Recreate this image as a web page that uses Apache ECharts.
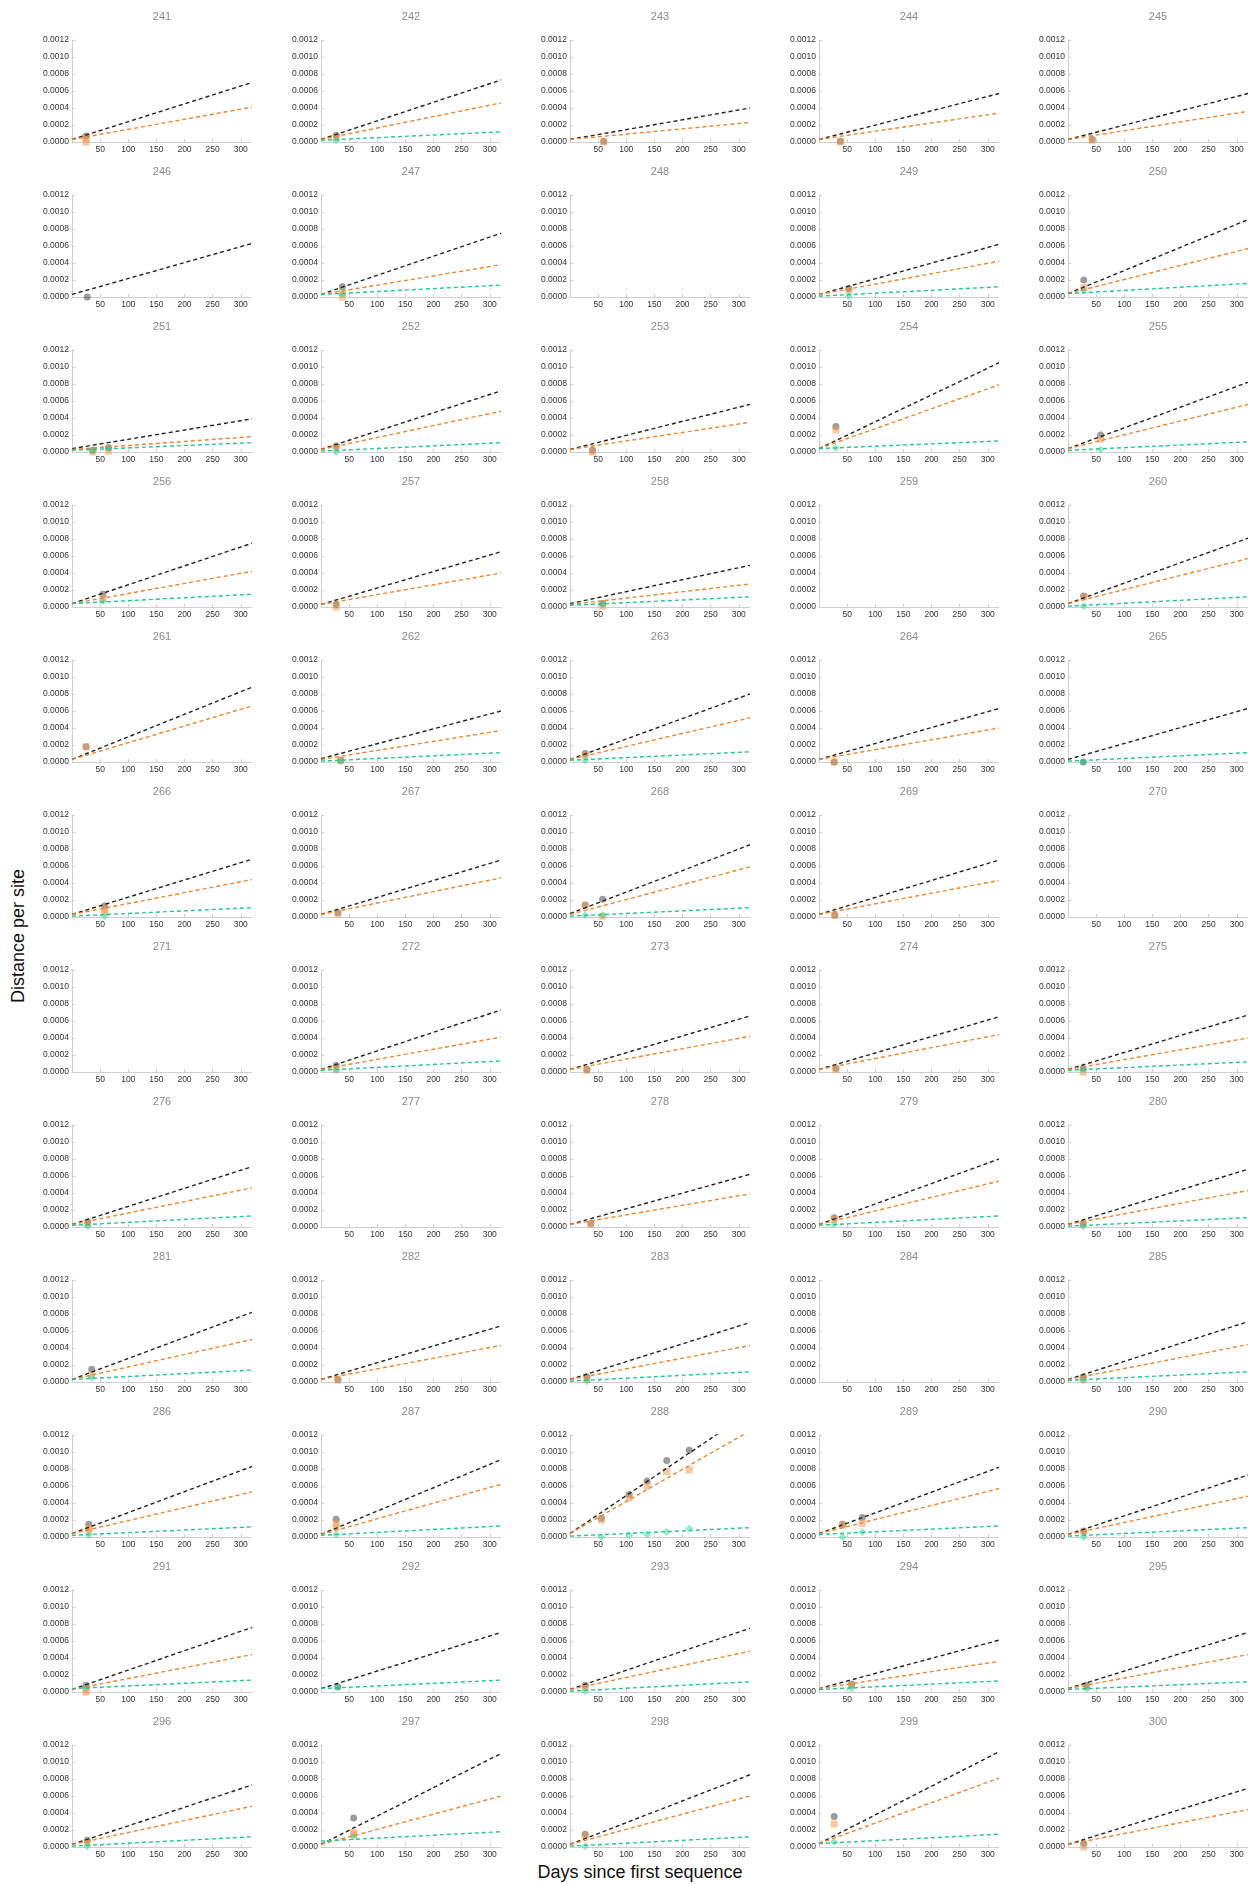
<!DOCTYPE html>
<html>
<head>
<meta charset="utf-8">
<script src="https://cdn.jsdelivr.net/npm/echarts@6/dist/echarts.min.js"></script>
<style>
html, body { margin: 0; padding: 0; background: #fff; }
#wrap { position: relative; width: 1248px; height: 1884px; overflow: hidden; }
.panel { position: absolute; width: 252px; height: 155px; }
.axtitle { position: absolute; font: 18px "Liberation Sans", Arial, sans-serif; color: #111; white-space: nowrap; }
#xtitle { left: 640px; top: 1872px; transform: translate(-50%, -50%); }
#ytitle { left: 18px; top: 936px; transform: translate(-50%, -50%) rotate(-90deg); }
#err { position: absolute; left: 300px; top: 0; font: 12px monospace; color: #c00; white-space: pre-wrap; z-index: 10; }
</style>
</head>
<body>
<div id="wrap">
    <div class="axtitle" id="xtitle">Days since first sequence</div>
    <div class="axtitle" id="ytitle">Distance per site</div>
</div>
<pre id="err"></pre>
<script>
// panel ids, left to right, top to bottom
var panelNames = ['241','242','243','244','245','246','247','248','249','250',
    '251','252','253','254','255','256','257','258','259','260',
    '261','262','263','264','265','266','267','268','269','270',
    '271','272','273','274','275','276','277','278','279','280',
    '281','282','283','284','285','286','287','288','289','290',
    '291','292','293','294','295','296','297','298','299','300'];

// fitted lines: [value at day 0, value at day 320], null = no line
var blackFit = [
    [0.00003,0.00070],[0.00003,0.00073],[0.00003,0.00040],[0.00003,0.00057],[0.00003,0.00057],
    [0.00003,0.00063],[0.00003,0.00075],null,[0.00003,0.00062],[0.00004,0.00091],
    [0.00004,0.00039],[0.00003,0.00072],[0.00003,0.00056],[0.00004,0.00105],[0.00004,0.00082],
    [0.00004,0.00075],[0.00003,0.00065],[0.00004,0.00049],null,[0.00004,0.00081],
    [0.00003,0.00088],[0.00004,0.00060],[0.00003,0.00080],[0.00003,0.00063],[0.00003,0.00063],
    [0.00003,0.00068],[0.00003,0.00067],[0.00004,0.00085],[0.00003,0.00067],null,
    null,[0.00003,0.00073],[0.00003,0.00066],[0.00003,0.00065],[0.00003,0.00067],
    [0.00003,0.00071],null,[0.00003,0.00062],[0.00003,0.00080],[0.00003,0.00068],
    [0.00003,0.00082],[0.00003,0.00066],[0.00003,0.00070],null,[0.00003,0.00071],
    [0.00004,0.00083],[0.00003,0.00091],[0.00004,0.00147],[0.00004,0.00082],[0.00003,0.00073],
    [0.00003,0.00076],[0.00004,0.00070],[0.00003,0.00075],[0.00004,0.00061],[0.00004,0.00070],
    [0.00003,0.00073],[0.00003,0.00110],[0.00003,0.00085],[0.00004,0.00112],[0.00003,0.00069]
];
var orangeFit = [
    [0.00003,0.00041],[0.00003,0.00046],[0.00003,0.00023],[0.00003,0.00034],[0.00003,0.00036],
    null,[0.00003,0.00038],null,[0.00003,0.00042],[0.00004,0.00057],
    [0.00003,0.00018],[0.00003,0.00048],[0.00003,0.00035],[0.00004,0.00079],[0.00004,0.00056],
    [0.00004,0.00042],[0.00003,0.00040],[0.00003,0.00027],null,[0.00004,0.00057],
    [0.00003,0.00066],[0.00003,0.00037],[0.00003,0.00052],[0.00003,0.00040],null,
    [0.00003,0.00044],[0.00003,0.00046],[0.00003,0.00059],[0.00003,0.00043],null,
    null,[0.00003,0.00041],[0.00003,0.00042],[0.00003,0.00044],[0.00003,0.00040],
    [0.00003,0.00046],null,[0.00003,0.00039],[0.00003,0.00054],[0.00003,0.00043],
    [0.00003,0.00050],[0.00003,0.00043],[0.00003,0.00043],null,[0.00003,0.00044],
    [0.00004,0.00053],[0.00003,0.00062],[0.00004,0.00125],[0.00004,0.00057],[0.00003,0.00048],
    [0.00003,0.00044],null,[0.00003,0.00048],[0.00004,0.00036],[0.00004,0.00044],
    [0.00003,0.00048],[0.00003,0.00060],[0.00003,0.00060],[0.00004,0.00081],[0.00003,0.00044]
];
var greenFit = [
    null,[0.00002,0.00012],null,null,null,
    null,[0.00003,0.00014],null,[0.00001,0.00012],[0.00004,0.00016],
    [0.00002,0.00011],[0.00001,0.00011],null,[0.00004,0.00013],[0.00002,0.00012],
    [0.00004,0.00015],null,[0.00002,0.00012],null,[0.00001,0.00012],
    null,[0.00001,0.00011],[0.00002,0.00012],null,[0.00001,0.00011],
    [0.00001,0.00011],null,[0.00001,0.00011],null,null,
    null,[0.00002,0.00013],null,null,[0.00002,0.00012],
    [0.00002,0.00013],null,null,[0.00002,0.00013],[0.00001,0.00011],
    [0.00003,0.00014],null,[0.00001,0.00012],null,[0.00002,0.00012],
    [0.00002,0.00012],[0.00002,0.00013],[0.00001,0.00011],[0.00003,0.00013],[0.00001,0.00011],
    [0.00004,0.00014],[0.00004,0.00014],[0.00001,0.00012],[0.00003,0.00013],[0.00003,0.00012],
    [0.00001,0.00012],[0.00007,0.00018],[0.00001,0.00012],[0.00004,0.00015],null
];

// observed points: [day, distance per site]
var blackPts = [
    [[25,0.00007]],[[27,0.00008]],[[60,0.00001]],[[38,0.00001]],[[43,0.00003]],
    [[27,0.0]],[[38,0.00012]],[],[[53,0.0001]],[[28,0.0002]],
    [[37,0.00002],[65,0.00005]],[[27,0.00007]],[[40,0.00002]],[[30,0.0003]],[[58,0.0002]],
    [[55,0.00015]],[[27,0.00003]],[[58,0.00004]],[],[[28,0.00013]],
    [[25,0.00018]],[[35,0.00002]],[[27,0.0001]],[[27,0.0]],[[27,0.0]],
    [[58,0.00013]],[[30,0.00005]],[[27,0.00014],[58,0.00021]],[[28,0.00002]],[],
    [],[[27,0.00008]],[[30,0.00003]],[[30,0.00004]],[[27,0.00004]],
    [[28,0.00006]],[],[[37,0.00004]],[[27,0.00011]],[[27,0.00004]],
    [[35,0.00015]],[[30,0.00003]],[[30,0.00006]],[],[[27,0.00006]],
    [[30,0.00015]],[[27,0.00021]],[[56,0.00022],[105,0.0005],[137,0.00066],[172,0.0009],[212,0.00102]],[[42,0.00015],[77,0.00023]],[[28,0.00007]],
    [[25,0.00008]],[[30,0.00006]],[[27,0.00008]],[[58,0.00009]],[[33,0.00008]],
    [[27,0.00008]],[[58,0.00034]],[[27,0.00015]],[[27,0.00036]],[[28,0.00004]]
];
var orangePts = [
    [[25,0.00004],[25,0.0]],[[27,0.00005]],[[60,0.0]],[[38,0.0]],[[43,0.00002]],
    [],[[38,0.00005],[38,0.0]],[],[[53,0.00008]],[[28,0.00011]],
    [[37,0.0],[65,0.00001]],[[27,0.00005]],[[40,0.0]],[[30,0.00026]],[[58,0.00015]],
    [[55,0.0001]],[[27,0.0]],[[58,0.00001]],[],[[28,0.00012]],
    [[25,0.00018]],[[35,0.00002]],[[27,0.00008]],[[27,0.0]],[],
    [[58,0.00009],[58,0.00006]],[[30,0.00004]],[[27,0.00013],[58,0.00001]],[[28,0.00002]],[],
    [],[[27,0.00003]],[[30,0.00002]],[[30,0.00003]],[[27,0.0]],
    [[28,0.00004]],[],[[37,0.00003]],[[27,0.00009]],[[27,0.00003]],
    [[35,0.00008]],[[30,0.00002]],[[30,0.00003]],[],[[27,0.00003]],
    [[30,0.0001],[30,0.00008]],[[27,0.00016],[27,0.00012]],[[56,0.0002],[105,0.00046],[137,0.0006],[172,0.00077],[212,0.00079]],[[42,0.00014],[77,0.00016]],[[28,0.00006]],
    [[25,0.00002],[25,0.0]],[],[[27,0.00005]],[[58,0.00008]],[[33,0.00006]],
    [[27,0.00005]],[[58,0.00017],[58,0.00015]],[[27,0.00013]],[[27,0.00027]],[[28,0.0]]
];
var greenPts = [
    [],[[27,0.00002]],[],[],[],
    [],[[38,0.00003]],[],[[53,0.00001]],[[28,0.00008]],
    [[37,0.00002],[65,0.00004]],[[27,0.0]],[],[[30,0.00005]],[[58,0.00003]],
    [[55,0.00007]],[],[[58,0.00003]],[],[[28,0.00001]],
    [],[[35,0.00001]],[[27,0.00002]],[],[[27,0.0]],
    [[58,0.00001]],[],[[27,0.00002],[58,0.00002]],[],[],
    [],[[27,0.00002]],[],[],[[27,0.00003]],
    [[28,0.00001]],[],[],[[27,0.00003]],[[27,0.00001]],
    [[35,0.00005]],[],[[30,0.00001]],[],[[27,0.00002]],
    [[30,0.00002]],[[27,0.00003]],[[56,0.0],[105,0.00002],[137,0.00003],[172,0.00006],[212,0.0001]],[[42,0.0],[77,0.00006]],[[28,0.0]],
    [[25,0.00005]],[[30,0.00006]],[[27,0.00001]],[[58,0.00004]],[[33,0.00004]],
    [[27,0.00001]],[[58,0.00012]],[[27,0.00001]],[[27,0.00006]],[]
];

// axis ranges and tick steps
var yMin = 0, yMax = 0.0012, yStep = 0.0002;
var xMin = 0, xMax = 320, xStep = 50;
var fitDays = [0, 320];

var FONT = '"Liberation Sans", Arial, sans-serif';
var colBlack = '#222222', colOrange = '#f0852d', colGreen = '#22c98e';

function log(s) { document.getElementById('err').textContent += s + '\n'; }

function fitLine(fit) {
    return [[fitDays[0], fit[0]], [fitDays[1], fit[1]]];
}

// one small chart per panel, like the small multiples of the original
function panelOption(i, plain) {
    var axLine = plain ? {} : {lineStyle: {color: '#cfcfcf', width: 1}};
    var tick = plain ? {} : {show: true, inside: true, length: 3, lineStyle: {color: '#cfcfcf'}};
    var lab = function (fmt) {
        return plain ? {formatter: fmt} : {fontSize: 8.5, color: '#333', margin: 3, fontFamily: FONT, formatter: fmt};
    };
    var series = [];
    if (blackPts[i].length) series.push({
        type: 'scatter', data: blackPts[i], symbol: 'circle', symbolSize: 7,
        itemStyle: {color: '#3a3a3a', opacity: 0.5}
    });
    if (orangePts[i].length) series.push({
        type: 'scatter', data: orangePts[i], symbol: 'rect', symbolSize: 7,
        itemStyle: {color: '#f29a55', opacity: 0.55}
    });
    if (greenPts[i].length) series.push({
        type: 'scatter', data: greenPts[i], symbol: 'diamond', symbolSize: 8,
        itemStyle: {color: '#2fd39b', opacity: 0.5}
    });
    [[blackFit[i], colBlack], [orangeFit[i], colOrange], [greenFit[i], colGreen]].forEach(function (f) {
        if (!f[0]) return;
        series.push({
            type: 'line', data: fitLine(f[0]), showSymbol: false,
            lineStyle: {color: f[1], width: 1.4, type: [4, 3]}
        });
    });
    if (!plain) series.forEach(function (s) { s.clip = s.type === 'line'; });

    return {
        animation: false,
        title: {
            text: panelNames[i], left: 162, top: 17, padding: 0,
            textAlign: 'center', textVerticalAlign: 'middle',
            textStyle: {fontSize: 11, fontWeight: 'normal', color: '#8a8a8a', fontFamily: FONT}
        },
        grid: {left: 72, top: 40, width: 180, height: 102},
        xAxis: {
            type: 'value', min: xMin, max: xMax, interval: xStep,
            axisLine: axLine, axisTick: tick, splitLine: {show: false},
            axisLabel: lab(function (v) { return v === 0 ? '' : String(v); })
        },
        yAxis: {
            type: 'value', min: yMin, max: yMax, interval: yStep,
            axisLine: Object.assign({show: true}, axLine), axisTick: tick, splitLine: {show: false},
            axisLabel: lab(function (v) { return v.toFixed(4); })
        },
        series: series
    };
}

var wrap = document.getElementById('wrap');
for (var i = 0; i < panelNames.length; i++) {
    var r = Math.floor(i / 5), c = i % 5;
    var div = document.createElement('div');
    div.className = 'panel';
    div.style.left = (249 * c) + 'px';
    div.style.top = (155 * r) + 'px';
    wrap.appendChild(div);

    var chart = echarts.init(div);
    try {
        chart.setOption(panelOption(i, false));
    } catch (e) {
        log(panelNames[i] + ' styled: ' + e.message);
        chart.dispose();
        chart = echarts.init(div);
        try {
            chart.setOption(panelOption(i, true));
        } catch (e2) {
            log(panelNames[i] + ' plain: ' + e2.message);
        }
    }
}
</script>
</body>
</html>
